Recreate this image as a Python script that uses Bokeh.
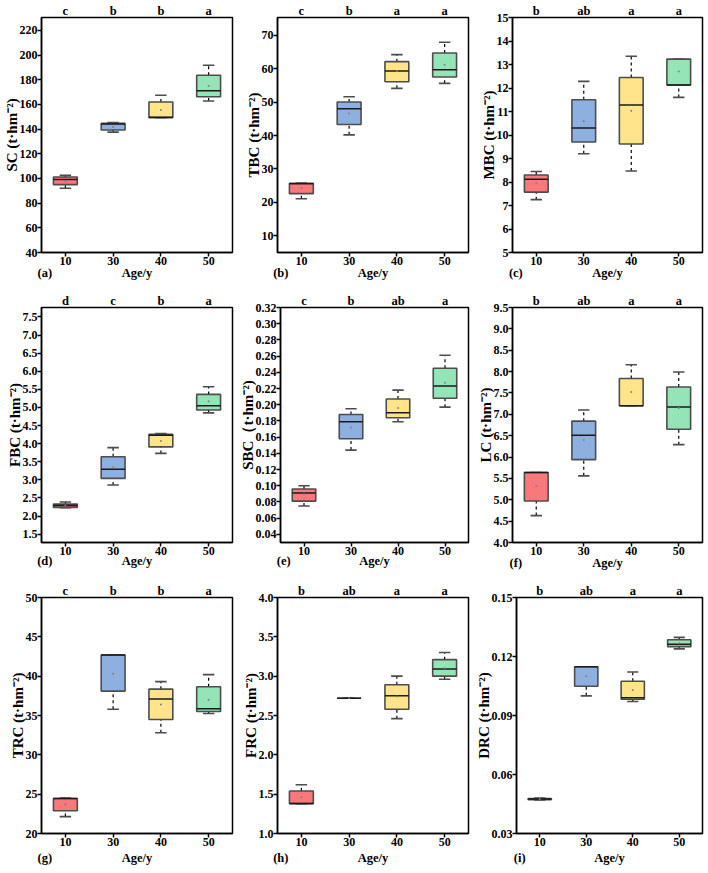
from bokeh.plotting import figure
from bokeh.layouts import column, row
from bokeh.models import (FixedTicker, LinearAxis, Range1d,
                          ColumnDataSource, NumeralTickFormatter)
from bokeh.embed import file_html
from bokeh.resources import INLINE

AGES = ["10", "30", "40", "50"]
COLORS = ["#F8787C", "#8EB0E0", "#FFE48A", "#94E4B8"]

# Box statistics for each stand age: lower whisker, Q1, median, Q3, upper whisker, mean
SC_LOW = [92.1, 137.5, 149.2, 162.7]
SC_Q1 = [95.0, 139.3, 149.3, 166.2]
SC_MED = [99.1, 144.2, 149.5, 171.0]
SC_Q3 = [101.2, 144.6, 161.9, 183.6]
SC_HIGH = [102.5, 145.3, 167.4, 191.7]
SC_MEAN = [98.0, 141.7, 155.4, 175.0]
SC_SIG = ["c", "b", "b", "a"]
SC_TICKS = [40, 60, 80, 100, 120, 140, 160, 180, 200, 220]

TBC_LOW = [21.1, 40.2, 54.1, 55.6]
TBC_Q1 = [22.6, 43.3, 56.1, 57.5]
TBC_MED = [25.6, 48.0, 59.3, 59.7]
TBC_Q3 = [25.7, 50.0, 62.1, 64.7]
TBC_HIGH = [25.8, 51.6, 64.2, 67.9]
TBC_MEAN = [24.3, 46.6, 59.2, 61.2]
TBC_SIG = ["c", "b", "a", "a"]
TBC_TICKS = [10, 20, 30, 40, 50, 60, 70]

MBC_LOW = [7.25, 9.2, 8.47, 11.6]
MBC_Q1 = [7.57, 9.7, 9.62, 12.13]
MBC_MED = [8.12, 10.3, 11.28, 12.13]
MBC_Q3 = [8.3, 11.5, 12.45, 13.23]
MBC_HIGH = [8.45, 12.28, 13.35, 13.23]
MBC_MEAN = [7.95, 10.6, 11.03, 12.7]
MBC_SIG = ["b", "ab", "a", "a"]
MBC_TICKS = [5, 6, 7, 8, 9, 10, 11, 12, 13, 14, 15]

FBC_LOW = [2.23, 2.86, 3.73, 4.85]
FBC_Q1 = [2.24, 3.04, 3.91, 4.93]
FBC_MED = [2.29, 3.29, 4.23, 5.05]
FBC_Q3 = [2.33, 3.64, 4.26, 5.36]
FBC_HIGH = [2.39, 3.89, 4.28, 5.57]
FBC_MEAN = [2.29, 3.34, 4.07, 5.17]
FBC_SIG = ["d", "c", "b", "a"]
FBC_TICKS = [1.5, 2.0, 2.5, 3.0, 3.5, 4.0, 4.5, 5.0, 5.5, 6.0, 6.5, 7.0, 7.5]

SBC_LOW = [0.075, 0.144, 0.179, 0.197]
SBC_Q1 = [0.081, 0.158, 0.184, 0.208]
SBC_MED = [0.091, 0.179, 0.190, 0.223]
SBC_Q3 = [0.096, 0.188, 0.207, 0.245]
SBC_HIGH = [0.100, 0.195, 0.218, 0.261]
SBC_MEAN = [0.0895, 0.172, 0.196, 0.227]
SBC_SIG = ["c", "b", "ab", "a"]
SBC_TICKS = [0.04, 0.06, 0.08, 0.10, 0.12, 0.14, 0.16, 0.18, 0.20,
             0.22, 0.24, 0.26, 0.28, 0.30, 0.32]

LC_LOW = [4.63, 5.56, 7.2, 6.29]
LC_Q1 = [4.97, 5.94, 7.2, 6.65]
LC_MED = [5.64, 6.51, 7.2, 7.17]
LC_Q3 = [5.64, 6.84, 7.84, 7.64]
LC_HIGH = [5.64, 7.1, 8.16, 7.99]
LC_MEAN = [5.32, 6.4, 7.52, 7.15]
LC_SIG = ["b", "ab", "a", "a"]
LC_TICKS = [4.0, 4.5, 5.0, 5.5, 6.0, 6.5, 7.0, 7.5, 8.0, 8.5, 9.0, 9.5]

TRC_LOW = [22.15, 35.8, 32.8, 35.25]
TRC_Q1 = [22.9, 38.1, 34.5, 35.5]
TRC_MED = [24.45, 42.7, 37.1, 35.85]
TRC_Q3 = [24.45, 42.7, 38.35, 38.65]
TRC_HIGH = [24.5, 42.7, 39.3, 40.2]
TRC_MEAN = [23.7, 40.3, 36.4, 37.0]
TRC_SIG = ["c", "b", "b", "a"]
TRC_TICKS = [20, 25, 30, 35, 40, 45, 50]

FRC_LOW = [1.38, 2.72, 2.46, 2.96]
FRC_Q1 = [1.38, 2.72, 2.58, 3.0]
FRC_MED = [1.38, 2.72, 2.75, 3.09]
FRC_Q3 = [1.54, 2.72, 2.89, 3.21]
FRC_HIGH = [1.62, 2.72, 3.0, 3.3]
FRC_MEAN = [1.46, 2.72, 2.74, 3.1]
FRC_SIG = ["b", "ab", "a", "a"]
FRC_TICKS = [1.0, 1.5, 2.0, 2.5, 3.0, 3.5, 4.0]

DRC_LOW = [0.0470, 0.100, 0.0971, 0.1239]
DRC_Q1 = [0.0472, 0.1049, 0.0983, 0.1250]
DRC_MED = [0.0475, 0.1148, 0.0990, 0.1262]
DRC_Q3 = [0.0478, 0.1148, 0.1074, 0.1285]
DRC_HIGH = [0.0480, 0.1148, 0.1121, 0.1297]
DRC_MEAN = [0.0476, 0.110, 0.103, 0.1267]
DRC_SIG = ["b", "ab", "a", "a"]
DRC_TICKS = [0.03, 0.06, 0.09, 0.12, 0.15]

UNIT = " (t\u00b7hm\u207b\u00b2)"
X_TITLE = "Age/y"
FONT = "Liberation Serif"
BOX_W = 0.5
CAP_W = 0.24
TAG_X = 0.57      # data position of the panel tag, near the left frame edge
TITLE_X = 2.5     # centre of the x range


def make_panel(tag, ylabel, sig, low, q1, med, q3, high, mean, yr, ticks, fmt,
               width, height, left, right, top, bottom, title_gap):
    xs = list(range(1, len(AGES) + 1))
    p = figure(width=width, height=height, x_range=Range1d(0.5, 4.5),
               y_range=Range1d(*yr), output_backend="svg",
               toolbar_location=None, min_border_left=left,
               min_border_right=right, min_border_top=top,
               min_border_bottom=bottom)
    p.grid.visible = False
    p.outline_line_color = "black"
    p.outline_line_width = 1.5
    p.background_fill_color = "white"
    p.border_fill_color = "white"

    src = ColumnDataSource(dict(
        x=xs, low=low, q1=q1, med=med, q3=q3, high=high, mean=mean,
        color=COLORS,
        bl=[x - BOX_W / 2 for x in xs], br=[x + BOX_W / 2 for x in xs],
        cl=[x - CAP_W / 2 for x in xs], cr=[x + CAP_W / 2 for x in xs],
    ))

    # dashed whiskers
    p.segment(x0="x", y0="q3", x1="x", y1="high", source=src,
              line_color="black", line_width=1.2, line_dash="3 3")
    p.segment(x0="x", y0="low", x1="x", y1="q1", source=src,
              line_color="black", line_width=1.2, line_dash="3 3")
    # whisker caps
    p.segment(x0="cl", y0="high", x1="cr", y1="high", source=src,
              line_color="#4D4D4D", line_width=1.6)
    p.segment(x0="cl", y0="low", x1="cr", y1="low", source=src,
              line_color="#4D4D4D", line_width=1.6)
    # boxes
    p.vbar(x="x", width=BOX_W, top="q3", bottom="q1", source=src,
           fill_color="color", line_color="#4D4D4D", line_width=1.6)
    # medians
    p.segment(x0="bl", y0="med", x1="br", y1="med", source=src,
              line_color="#1A1A1A", line_width=1.5)
    # means
    p.scatter(x="x", y="mean", source=src, size=2, marker="circle",
              fill_color="#7F7F7F", line_color=None)

    xax = p.xaxis[0]
    yax = p.yaxis[0]
    xax.ticker = FixedTicker(ticks=xs)
    xax.major_label_overrides = {x: a for x, a in zip(xs, AGES)}
    yax.ticker = FixedTicker(ticks=ticks)
    yax.formatter = NumeralTickFormatter(format=fmt)
    yax.axis_label = ylabel
    for ax in (xax, yax):
        ax.axis_line_width = 1.5
        ax.major_tick_line_width = 1.5
        ax.major_tick_out = 4
        ax.major_tick_in = 0
        ax.minor_tick_out = 0
        ax.minor_tick_in = 0
        ax.major_label_text_font = FONT
        ax.major_label_text_font_style = "bold"
        ax.major_label_text_font_size = "12px"
        ax.major_label_text_color = "black"
    yax.axis_label_text_font = FONT
    yax.axis_label_text_font_style = "bold"
    yax.axis_label_text_font_size = "15px"
    yax.axis_label_text_color = "black"
    xax.major_label_standoff = 0
    yax.major_label_standoff = 0
    yax.axis_label_standoff = -3

    # second row under the x axis: panel tag on the left, axis title centred
    title_ax = LinearAxis(ticker=FixedTicker(ticks=[TAG_X, TITLE_X]),
                          major_label_overrides={TAG_X: tag, TITLE_X: X_TITLE},
                          axis_line_color=None, major_tick_line_color=None,
                          minor_tick_line_color=None, major_tick_out=0,
                          major_tick_in=0, major_label_standoff=title_gap,
                          major_label_text_font=FONT,
                          major_label_text_font_style="bold",
                          major_label_text_font_size="12.5px",
                          major_label_text_color="black")
    p.add_layout(title_ax, "below")

    # significance letters along the top edge
    top_ax = LinearAxis(ticker=FixedTicker(ticks=xs),
                        major_label_overrides={x: s for x, s in zip(xs, sig)},
                        axis_line_color=None, major_tick_line_color=None,
                        minor_tick_line_color=None, major_tick_out=0,
                        major_tick_in=0, major_label_standoff=0,
                        major_label_text_font=FONT,
                        major_label_text_font_style="bold",
                        major_label_text_font_size="12.5px",
                        major_label_text_color="black")
    p.add_layout(top_ax, "above")
    return p


pa = make_panel("(a)", "SC" + UNIT, SC_SIG, SC_LOW, SC_Q1, SC_MED, SC_Q3, SC_HIGH,
                SC_MEAN, (40, 230.4), SC_TICKS, "0", 236, 290, 41, 4, 15, 38, -2)
pb = make_panel("(b)", "TBC" + UNIT, TBC_SIG, TBC_LOW, TBC_Q1, TBC_MED, TBC_Q3,
                TBC_HIGH, TBC_MEAN, (5, 75.3), TBC_TICKS, "0", 236, 290, 41, 4, 15, 38, -2)
pc = make_panel("(c)", "MBC" + UNIT, MBC_SIG, MBC_LOW, MBC_Q1, MBC_MED, MBC_Q3,
                MBC_HIGH, MBC_MEAN, (5, 15), MBC_TICKS, "0", 236, 290, 40, 6, 15, 38, -2)

pd = make_panel("(d)", "FBC" + UNIT, FBC_SIG, FBC_LOW, FBC_Q1, FBC_MED, FBC_Q3,
                FBC_HIGH, FBC_MEAN, (1.27, 7.76), FBC_TICKS, "0.0", 236, 290, 41, 4, 16, 38, -4)
pe = make_panel("(e)", "SBC\uff08t\u00b7hm\u207b\u00b2)", SBC_SIG, SBC_LOW, SBC_Q1,
                SBC_MED, SBC_Q3, SBC_HIGH, SBC_MEAN, (0.03, 0.32), SBC_TICKS, "0.00",
                236, 290, 41, 4, 16, 38, -4)
pf = make_panel("(f)", "LC" + UNIT, LC_SIG, LC_LOW, LC_Q1, LC_MED, LC_Q3, LC_HIGH,
                LC_MEAN, (4.0, 9.5), LC_TICKS, "0.0", 236, 290, 40, 6, 16, 38, -2)

pg = make_panel("(g)", "TRC" + UNIT, TRC_SIG, TRC_LOW, TRC_Q1, TRC_MED, TRC_Q3,
                TRC_HIGH, TRC_MEAN, (20, 50), TRC_TICKS, "0", 236, 293, 41, 4, 17, 40, 2)
ph = make_panel("(h)", "FRC" + UNIT, FRC_SIG, FRC_LOW, FRC_Q1, FRC_MED, FRC_Q3,
                FRC_HIGH, FRC_MEAN, (1.0, 4.0), FRC_TICKS, "0.0", 236, 293, 41, 4, 17, 40, 2)
pi = make_panel("(i)", "DRC" + UNIT, DRC_SIG, DRC_LOW, DRC_Q1, DRC_MED, DRC_Q3,
                DRC_HIGH, DRC_MEAN, (0.03, 0.15), DRC_TICKS, "0.00", 236, 293, 40, 6, 17, 40, 2)

layout = column(row(pa, pb, pc), row(pd, pe, pf), row(pg, ph, pi))

open("out.html", "w").write(file_html(layout, INLINE))
